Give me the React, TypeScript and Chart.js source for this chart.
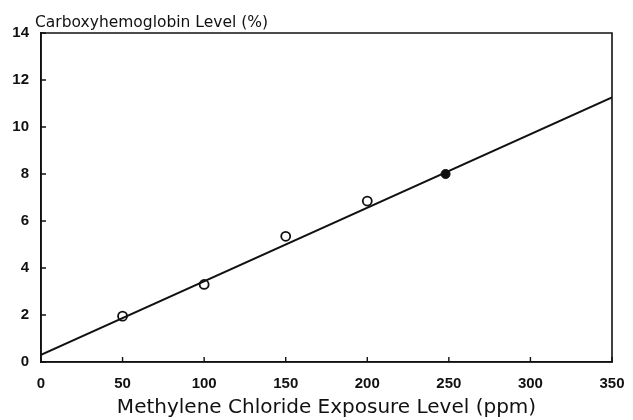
import React, { useEffect, useRef } from "react";
import { Chart, registerables } from "chart.js";

Chart.register(...registerables);

const xTicks = [0, 50, 100, 150, 200, 250, 300, 350];
const yTicks = [0, 2, 4, 6, 8, 10, 12, 14];
const openX = [50, 100, 150, 200];
const openY = [1.95, 3.3, 5.35, 6.85];
const filledX = [248];
const filledY = [8.0];
const fitX = [0, 350];
const fitY = [0.3, 11.26];
const yTitle = "Carboxyhemoglobin Level (%)";
const xTitle = "Methylene Chloride Exposure Level (ppm)";

const INK = "#111";

const framePlugin = {
  id: "frameAndTicks",
  afterDraw(chart: any) {
    const { ctx, chartArea, scales } = chart;
    const { left, right, top, bottom } = chartArea;
    ctx.save();
    ctx.strokeStyle = INK;
    ctx.lineWidth = 1.6;
    ctx.beginPath();
    ctx.rect(left, top, right - left, bottom - top);
    ctx.stroke();
    ctx.lineWidth = 1.4;
    ctx.beginPath();
    for (const v of xTicks) {
      const px = scales.x.getPixelForValue(v);
      ctx.moveTo(px, bottom);
      ctx.lineTo(px, bottom - 5);
    }
    for (const v of yTicks) {
      const py = scales.y.getPixelForValue(v);
      ctx.moveTo(left, py);
      ctx.lineTo(left + 5, py);
    }
    ctx.stroke();
    ctx.fillStyle = INK;
    ctx.font = "15.5px 'DejaVu Sans'";
    ctx.textAlign = "left";
    ctx.textBaseline = "alphabetic";
    ctx.fillText(yTitle, 35, 27);
    ctx.restore();
  },
};

export default function App() {
  const ref = useRef<HTMLCanvasElement | null>(null);
  useEffect(() => {
    const canvas = ref.current;
    if (!canvas) return;
    const tickFont = { family: "'Liberation Sans', Arial, sans-serif", size: 15, weight: "bold" };
    const chart = new Chart(canvas, {
      type: "scatter",
      data: {
        datasets: [
          {
            type: "line",
            data: fitX.map((x, i) => ({ x, y: fitY[i] })),
            borderColor: INK,
            borderWidth: 2,
            pointRadius: 0,
            fill: false,
          } as any,
          {
            data: openX.map((x, i) => ({ x, y: openY[i] })),
            pointRadius: 4.5,
            pointBorderWidth: 1.8,
            pointBorderColor: INK,
            pointBackgroundColor: "#fff",
          },
          {
            data: filledX.map((x, i) => ({ x, y: filledY[i] })),
            pointRadius: 4.5,
            pointBorderWidth: 1,
            pointBorderColor: INK,
            pointBackgroundColor: INK,
          },
        ],
      },
      options: {
        responsive: false,
        animation: false,
        layout: { padding: { left: 0, top: 33, right: 21, bottom: 0 } },
        plugins: { legend: { display: false }, tooltip: { enabled: false } },
        scales: {
          x: {
            type: "linear",
            min: 0,
            max: 350,
            afterBuildTicks: (s: any) => {
              s.ticks = xTicks.map((v) => ({ value: v }));
            },
            afterFit: (s: any) => {
              s.height = 58;
              s.paddingLeft = 0;
              s.paddingRight = 0;
            },
            grid: { display: true, drawOnChartArea: false, drawTicks: false },
            border: { display: true, color: INK, width: 1.6 },
            ticks: { padding: 13, color: INK, font: tickFont, maxRotation: 0 },
            title: {
              display: true,
              text: xTitle,
              color: INK,
              font: { family: "'DejaVu Sans', sans-serif", size: 20 },
              padding: { top: 0, bottom: 0 },
            },
          },
          y: {
            type: "linear",
            min: 0,
            max: 14,
            afterBuildTicks: (s: any) => {
              s.ticks = yTicks.map((v) => ({ value: v }));
            },
            afterFit: (s: any) => {
              s.width = 41;
              s.paddingTop = 0;
              s.paddingBottom = 0;
            },
            grid: { display: true, drawOnChartArea: false, drawTicks: false },
            border: { display: true, color: INK, width: 1.6 },
            ticks: { padding: 12, color: INK, font: tickFont },
          },
        },
      },
      plugins: [framePlugin],
    } as any);
    return () => chart.destroy();
  }, []);
  return (
    <div style={{ position: "fixed", left: 0, top: 0, width: 633, height: 420, background: "#fff" }}>
      <canvas ref={ref} width={633} height={420} />
    </div>
  );
}
